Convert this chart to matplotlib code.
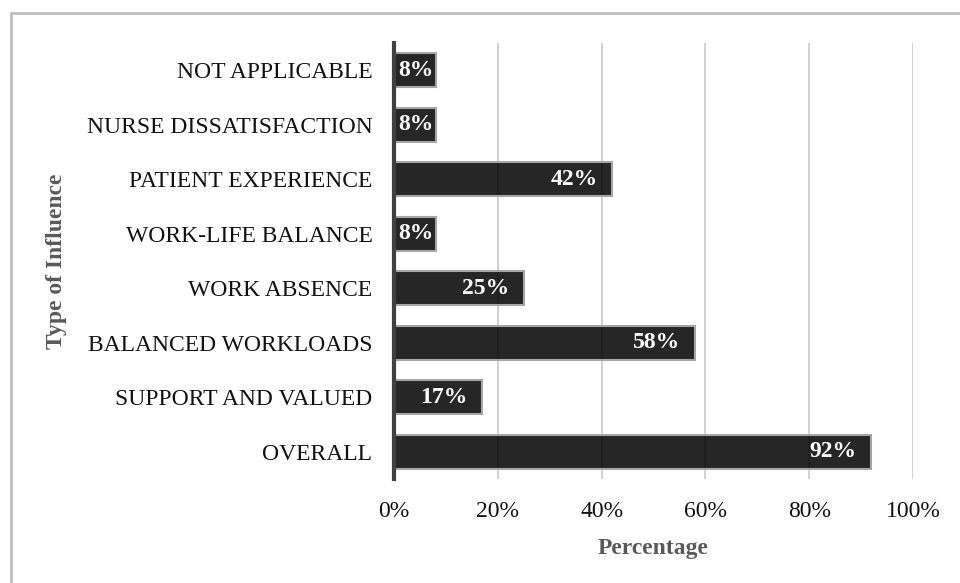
import numpy as np
import matplotlib
matplotlib.use('Agg')
import matplotlib.pyplot as plt
from matplotlib.patches import Rectangle
from matplotlib.ticker import PercentFormatter
import matplotlib.transforms as mtransforms

# veriler (alttan üste)
categories = ['OVERALL', 'SUPPORT AND VALUED', 'BALANCED WORKLOADS', 'WORK ABSENCE',
              'WORK-LIFE BALANCE', 'PATIENT EXPERIENCE', 'NURSE DISSATISFACTION',
              'NOT APPLICABLE']
values = [0.92, 0.17, 0.58, 0.25, 0.08, 0.42, 0.08, 0.08]
x_ticks = [0, 0.2, 0.4, 0.6, 0.8, 1.0]

plt.rcParams['font.family'] = ['Liberation Serif', 'DejaVu Serif']

fig = plt.figure(figsize=(9.6, 5.83), dpi=100)
ax = fig.add_axes([394 / 960, 1 - 479 / 583, (913 - 394) / 960, (479 - 43) / 583])

# dış çerçeve (sadece üst ve sol görünür)
fig.patches.append(Rectangle((11 / 960, -0.1), 2, (1 - 13 / 583) + 0.1,
                             transform=fig.transFigure, fill=False,
                             edgecolor='#bfbfbf', linewidth=2))

y = np.arange(len(categories))
ax.barh(y, values, height=0.62, color=(0, 0, 0, 0.85),
        edgecolor='#a6a6a6', linewidth=1.5, zorder=2)

ax.set_xlim(0, 1.0)
ax.set_ylim(-0.5, len(categories) - 0.5)
ax.set_xticks(x_ticks)
ax.xaxis.set_major_formatter(PercentFormatter(1.0, decimals=0))
ax.set_yticks(y)
ax.set_yticklabels(categories)
ax.tick_params(axis='y', length=0, pad=15.5, labelsize=17, labelcolor='#111111')
ax.tick_params(axis='x', length=0, pad=15.5, labelsize=17, labelcolor='#111111')

ax.grid(axis='x', color='#c8c8c8', linewidth=1.2, zorder=0)
ax.set_axisbelow(True)
for s in ['top', 'right', 'bottom']:
    ax.spines[s].set_visible(False)
ax.spines['left'].set_color('#404040')
ax.spines['left'].set_linewidth(3)
ax.spines['left'].set_zorder(3)

# etiketler
for yi, v in zip(y, values):
    if v < 0.12:
        off = mtransforms.offset_copy(ax.transData, fig=fig, x=3, y=0, units='points')
        ax.text(0, yi, f'{v:.0%}', transform=off, ha='left', va='center',
                color='white', fontweight='bold', fontsize=17, zorder=4)
    else:
        off = mtransforms.offset_copy(ax.transData, fig=fig, x=-10.5, y=0, units='points')
        ax.text(v, yi, f'{v:.0%}', transform=off, ha='right', va='center',
                color='white', fontweight='bold', fontsize=17, zorder=4)

ax.set_xlabel('Percentage', fontsize=17, fontweight='bold', color='#595959', labelpad=12)
ax.set_ylabel('Type of Influence', fontsize=17, fontweight='bold', color='#595959')
ax.yaxis.set_label_coords(-(394 - 67) / 519, 0.5)

fig.savefig('out.png', dpi=100)
